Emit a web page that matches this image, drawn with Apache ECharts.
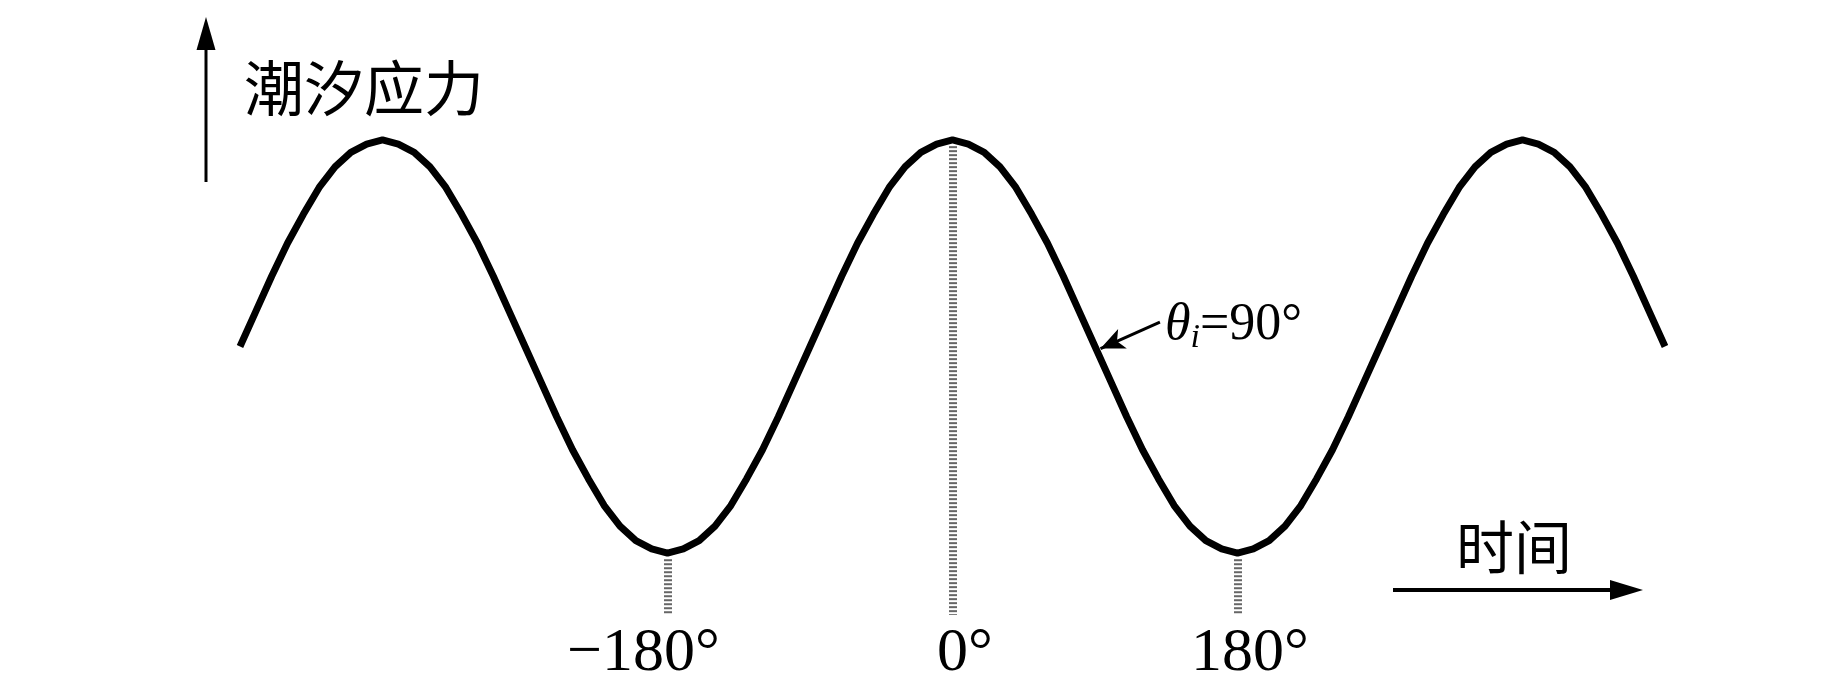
<!DOCTYPE html>
<html>
<head>
<meta charset="utf-8">
<script src="https://cdn.jsdelivr.net/npm/echarts@6/dist/echarts.min.js"></script>
<style>
  html, body { margin: 0; padding: 0; background: #fff; }
  #chart { width: 1843px; height: 685px; }
</style>
</head>
<body>
<div id="chart"></div>
<script>
// 相位（度）与潮汐应力（归一化）
const phase = [-450, -440, -430, -420, -410, -400, -390, -380, -370, -360,
  -350, -340, -330, -320, -310, -300, -290, -280, -270, -260,
  -250, -240, -230, -220, -210, -200, -190, -180, -170, -160,
  -150, -140, -130, -120, -110, -100, -90, -80, -70, -60,
  -50, -40, -30, -20, -10, 0, 10, 20, 30, 40,
  50, 60, 70, 80, 90, 100, 110, 120, 130, 140,
  150, 160, 170, 180, 190, 200, 210, 220, 230, 240,
  250, 260, 270, 280, 290, 300, 310, 320, 330, 340,
  350, 360, 370, 380, 390, 400, 410, 420, 430, 440, 450];
const stress = [0, 0.17, 0.34, 0.5, 0.64, 0.77, 0.87, 0.94, 0.98, 1,
  0.98, 0.94, 0.87, 0.77, 0.64, 0.5, 0.34, 0.17, 0, -0.17,
  -0.34, -0.5, -0.64, -0.77, -0.87, -0.94, -0.98, -1, -0.98, -0.94,
  -0.87, -0.77, -0.64, -0.5, -0.34, -0.17, 0, 0.17, 0.34, 0.5,
  0.64, 0.77, 0.87, 0.94, 0.98, 1, 0.98, 0.94, 0.87, 0.77,
  0.64, 0.5, 0.34, 0.17, 0, -0.17, -0.34, -0.5, -0.64, -0.77,
  -0.87, -0.94, -0.98, -1, -0.98, -0.94, -0.87, -0.77, -0.64, -0.5,
  -0.34, -0.17, 0, 0.17, 0.34, 0.5, 0.64, 0.77, 0.87, 0.94,
  0.98, 1, 0.98, 0.94, 0.87, 0.77, 0.64, 0.5, 0.34, 0.17, 0];
const tickValues = [-180, 0, 180];
const tickLabels = ["−180°", "0°", "180°"];
const yName = "潮汐应力";
const xName = "时间";
const noteSymbol = "θ";
const noteSub = "i";
const noteValue = "=90°";

const serif = "Liberation Serif";
const cjk = '"Noto Sans CJK SC", sans-serif';

const chart = echarts.init(document.getElementById("chart"));

const curveData = phase.map((p, i) => [p, stress[i]]);

// 竖向虚线：从曲线下方到坐标轴底部
const guideLines = tickValues.map((v) => {
  const y = stress[phase.indexOf(v)];
  return [{ coord: [v, y - 0.03] }, { coord: [v, -1.3] }];
});

const option = {
  backgroundColor: "#fff",
  animation: false,
  grid: {
    left: 240,
    right: 178,
    top: 78,
    bottom: 68,
  },
  xAxis: {
    type: "value",
    min: -450,
    max: 450,
    axisLine: { show: false },
    axisTick: { show: false },
    splitLine: { show: false },
    axisLabel: {
      customValues: tickValues,
      margin: 8,
      color: "#000",
      fontFamily: serif,
      fontSize: 62,
      formatter: function (value) {
        const text = tickLabels[tickValues.indexOf(value)];
        return value < 0 ? "{neg|" + text + "}" : "{pos|" + text + "}";
      },
      rich: {
        neg: { fontFamily: serif, fontSize: 62, color: "#000", padding: [0, 48, 0, 0] },
        pos: { fontFamily: serif, fontSize: 62, color: "#000", padding: [0, 0, 0, 25] },
      },
    },
  },
  yAxis: {
    type: "value",
    min: -1.3,
    max: 1.3,
    show: false,
  },
  series: [
    {
      type: "line",
      data: [],
      silent: true,
      markLine: {
        silent: true,
        z: 1,
        symbol: ["none", "none"],
        label: { show: false },
        lineStyle: { color: "#666", width: 8, type: [2, 2] },
        data: guideLines,
      },
    },
    {
      type: "line",
      z: 3,
      smooth: false,
      showSymbol: false,
      silent: true,
      lineStyle: { color: "#000", width: 7, cap: "butt", join: "round" },
      data: curveData,
      markLine: {
        silent: true,
        z: 4,
        symbol: ["none", "arrow"],
        symbolSize: [16, 24],
        label: { show: false },
        lineStyle: { color: "#000", width: 3, type: "solid" },
        data: [[{ coord: [131, 0.118] }, { coord: [93.5, -0.01] }]],
      },
      markPoint: {
        silent: true,
        symbolSize: 0,
        data: [
          {
            coord: [131, 0.118],
            label: {
              show: true,
              position: "right",
              distance: 5,
              offset: [0, 5],
              formatter: "{t|" + noteSymbol + "}{s|" + noteSub + "}{n|" + noteValue + "}",
              rich: {
                t: { fontFamily: serif, fontStyle: "italic", fontSize: 52, lineHeight: 56, verticalAlign: "top", color: "#000" },
                s: { fontFamily: serif, fontStyle: "italic", fontSize: 34, lineHeight: 34, padding: [28, 0, 0, 0], verticalAlign: "bottom", color: "#000" },
                n: { fontFamily: serif, fontSize: 52, lineHeight: 56, verticalAlign: "top", color: "#000" },
              },
            },
          },
        ],
      },
    },
  ],
  graphic: [
    { type: "line", shape: { x1: 206, y1: 182, x2: 206, y2: 45 }, style: { stroke: "#000", lineWidth: 3 } },
    { type: "polygon", shape: { points: [[196.5, 50], [215.5, 50], [206, 17]] }, style: { fill: "#000" } },
    { type: "line", shape: { x1: 1393, y1: 590, x2: 1615, y2: 590 }, style: { stroke: "#000", lineWidth: 4 } },
    { type: "polygon", shape: { points: [[1610, 580], [1610, 600], [1643, 590]] }, style: { fill: "#000" } },
    {
      type: "text",
      x: 364,
      y: 88,
      style: { text: yName, font: "60px " + cjk, fill: "#000", align: "center", verticalAlign: "middle", textAlign: "center", textVerticalAlign: "middle" },
    },
    {
      type: "text",
      x: 1514,
      y: 547,
      style: { text: xName, font: "58px " + cjk, fill: "#000", align: "center", verticalAlign: "middle", textAlign: "center", textVerticalAlign: "middle" },
    },
  ],
};
chart.setOption(option);
</script>
</body>
</html>
